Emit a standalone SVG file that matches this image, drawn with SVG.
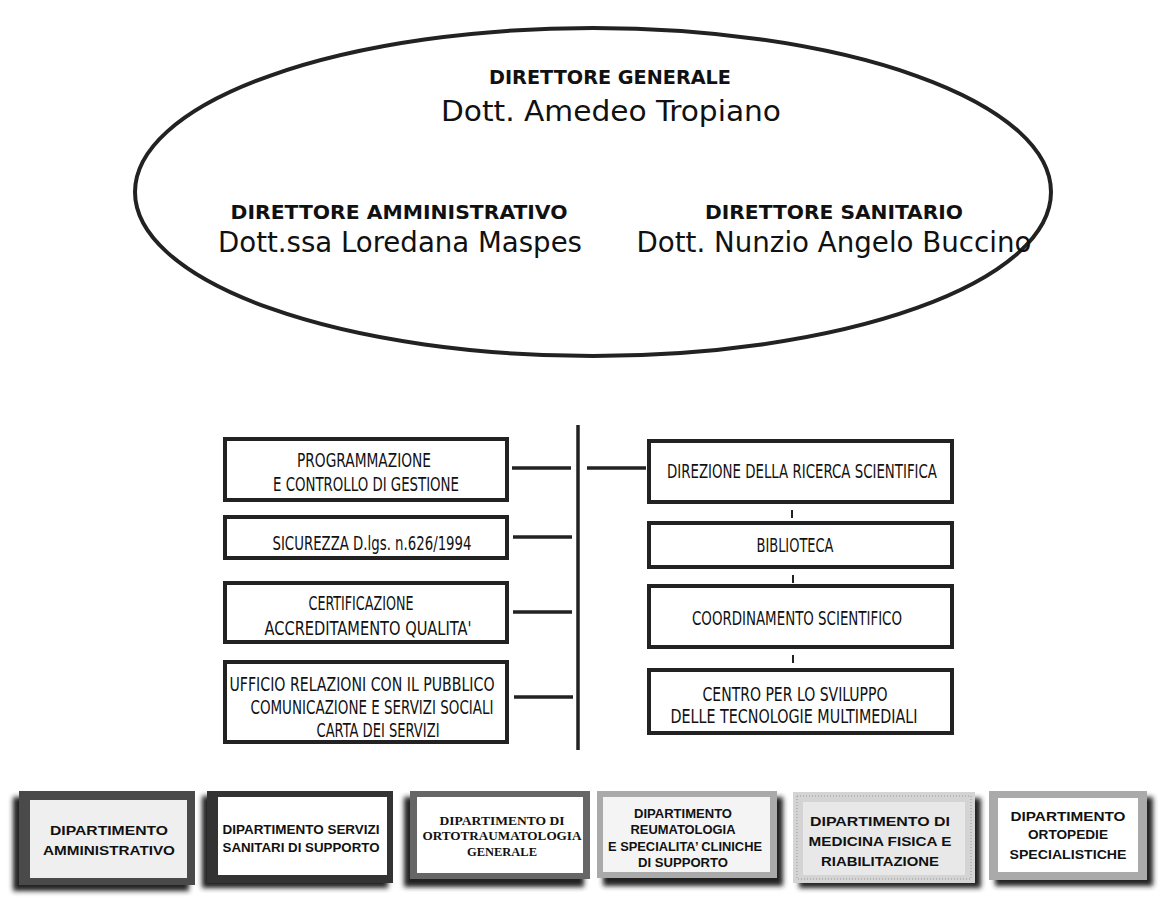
<svg xmlns="http://www.w3.org/2000/svg" width="1170" height="908" viewBox="0 0 1170 908">
<defs>
<filter id="blur" x="-10%" y="-10%" width="120%" height="130%"><feGaussianBlur stdDeviation="2.5"/></filter>
<style>
.hd{font-family:"DejaVu Sans Condensed","DejaVu Sans",sans-serif;font-stretch:condensed;font-weight:bold;font-size:19px;fill:#111;text-anchor:middle}
.nm{font-family:"DejaVu Sans Condensed","DejaVu Sans",sans-serif;font-stretch:condensed;font-size:28px;fill:#111;text-anchor:middle}
.bx{fill:#fff;stroke:#222;stroke-width:4}
.bt{font-family:"DejaVu Sans Condensed","DejaVu Sans",sans-serif;font-stretch:condensed;font-size:20px;fill:#111;text-anchor:middle}
.ln{stroke:#222;stroke-width:3.5;fill:none}
.tk{stroke:#222;stroke-width:2;fill:none}
.dt{font-family:"Liberation Sans",sans-serif;font-weight:bold;font-size:13px;fill:#111;text-anchor:middle}
.ds{font-family:"Liberation Serif",serif;font-weight:bold;font-size:13px;fill:#111;text-anchor:middle}
.sh{fill:#222;filter:url(#blur)}
</style>
</defs>
<rect width="1170" height="908" fill="#fff"/>

<g id="direzione">
<ellipse cx="593" cy="192" rx="458" ry="164" fill="#fff" stroke="#222" stroke-width="4"/>
<text class="hd" x="610" y="84" textLength="242" lengthAdjust="spacingAndGlyphs">DIRETTORE GENERALE</text>
<text class="nm" x="611" y="121" textLength="340" lengthAdjust="spacingAndGlyphs">Dott. Amedeo Tropiano</text>
<text class="hd" x="399" y="219" textLength="337" lengthAdjust="spacingAndGlyphs">DIRETTORE AMMINISTRATIVO</text>
<text class="nm" x="400" y="252" textLength="364" lengthAdjust="spacingAndGlyphs">Dott.ssa Loredana Maspes</text>
<text class="hd" x="834" y="219" textLength="258" lengthAdjust="spacingAndGlyphs">DIRETTORE SANITARIO</text>
<text class="nm" x="834" y="252" textLength="395" lengthAdjust="spacingAndGlyphs">Dott. Nunzio Angelo Buccino</text>
</g>

<g id="connectors">
<line class="ln" x1="578" y1="425" x2="578" y2="750"/>
<line class="ln" x1="512" y1="468" x2="571" y2="468"/>
<line class="ln" x1="513" y1="537" x2="572" y2="537"/>
<line class="ln" x1="513" y1="612" x2="572" y2="612"/>
<line class="ln" x1="514" y1="697" x2="573" y2="697"/>
<line class="ln" x1="587" y1="468" x2="646" y2="468"/>
<line class="tk" x1="792" y1="510" x2="792" y2="518"/>
<line class="tk" x1="793" y1="575" x2="793" y2="583"/>
<line class="tk" x1="793" y1="655" x2="793" y2="663"/>
</g>

<g id="programmazione">
<rect class="bx" x="225" y="439" width="282" height="61"/>
<text class="bt" x="364" y="467" textLength="134" lengthAdjust="spacingAndGlyphs">PROGRAMMAZIONE</text>
<text class="bt" x="366" y="491" textLength="186" lengthAdjust="spacingAndGlyphs">E CONTROLLO DI GESTIONE</text>
</g>
<g id="sicurezza">
<rect class="bx" x="225" y="517" width="282" height="41"/>
<text class="bt" x="372" y="550" textLength="199" lengthAdjust="spacingAndGlyphs">SICUREZZA D.lgs. n.626/1994</text>
</g>
<g id="certificazione">
<rect class="bx" x="225" y="583" width="282" height="59"/>
<text class="bt" x="361" y="610" textLength="105" lengthAdjust="spacingAndGlyphs">CERTIFICAZIONE</text>
<text class="bt" x="368" y="635" textLength="207" lengthAdjust="spacingAndGlyphs">ACCREDITAMENTO QUALITA'</text>
</g>
<g id="urp">
<rect class="bx" x="225" y="662" width="282" height="80"/>
<text class="bt" x="362" y="691" textLength="265" lengthAdjust="spacingAndGlyphs">UFFICIO RELAZIONI CON IL PUBBLICO</text>
<text class="bt" x="372" y="714" textLength="243" lengthAdjust="spacingAndGlyphs">COMUNICAZIONE E SERVIZI SOCIALI</text>
<text class="bt" x="378" y="737" textLength="123" lengthAdjust="spacingAndGlyphs">CARTA DEI SERVIZI</text>
</g>

<g id="ricerca">
<rect class="bx" x="649" y="441" width="303" height="61"/>
<text class="bt" x="802" y="478" textLength="270" lengthAdjust="spacingAndGlyphs">DIREZIONE DELLA RICERCA SCIENTIFICA</text>
</g>
<g id="biblioteca">
<rect class="bx" x="649" y="523" width="303" height="44"/>
<text class="bt" x="795" y="552" textLength="77" lengthAdjust="spacingAndGlyphs">BIBLIOTECA</text>
</g>
<g id="coordinamento">
<rect class="bx" x="649" y="586" width="303" height="61"/>
<text class="bt" x="797" y="625" textLength="210" lengthAdjust="spacingAndGlyphs">COORDINAMENTO SCIENTIFICO</text>
</g>
<g id="centro">
<rect class="bx" x="649" y="670" width="303" height="63"/>
<text class="bt" x="795" y="701" textLength="185" lengthAdjust="spacingAndGlyphs">CENTRO PER LO SVILUPPO</text>
<text class="bt" x="794" y="723" textLength="247" lengthAdjust="spacingAndGlyphs">DELLE TECNOLOGIE MULTIMEDIALI</text>
</g>

<g id="dip-amministrativo">
<rect class="sh" x="13" y="797" width="176" height="94"/>
<rect x="19" y="791" width="176" height="94" fill="#4a4a4a"/>
<rect x="30" y="800" width="157" height="78" fill="#efefef"/>
<text class="dt" x="109" y="835" textLength="118" lengthAdjust="spacingAndGlyphs">DIPARTIMENTO</text>
<text class="dt" x="109" y="855" textLength="132" lengthAdjust="spacingAndGlyphs">AMMINISTRATIVO</text>
</g>
<g id="dip-servizi">
<rect class="sh" x="202" y="796" width="186" height="92"/>
<rect x="207" y="791" width="186" height="92" fill="#333"/>
<rect x="218" y="797" width="169" height="78" fill="#fff"/>
<text class="dt" x="301" y="834" textLength="157" lengthAdjust="spacingAndGlyphs">DIPARTIMENTO SERVIZI</text>
<text class="dt" x="301" y="852" textLength="157" lengthAdjust="spacingAndGlyphs">SANITARI DI SUPPORTO</text>
</g>
<g id="dip-ortotraumatologia">
<rect class="sh" x="404" y="797" width="180" height="90"/>
<rect x="410" y="791" width="180" height="88" fill="#666"/>
<rect x="417" y="797" width="166" height="76" fill="#fff"/>
<text class="ds" x="502" y="825" textLength="125" lengthAdjust="spacingAndGlyphs">DIPARTIMENTO DI</text>
<text class="ds" x="502" y="840" textLength="159" lengthAdjust="spacingAndGlyphs">ORTOTRAUMATOLOGIA</text>
<text class="ds" x="502" y="856" textLength="70" lengthAdjust="spacingAndGlyphs">GENERALE</text>
</g>
<g id="dip-reumatologia">
<rect class="sh" x="603" y="797" width="180" height="89"/>
<rect x="597" y="791" width="180" height="87" fill="#aaa"/>
<rect x="603" y="797" width="167" height="75" fill="#f4f4f4"/>
<text class="dt" x="683" y="818" textLength="98" lengthAdjust="spacingAndGlyphs">DIPARTIMENTO</text>
<text class="dt" x="683" y="834" textLength="105" lengthAdjust="spacingAndGlyphs">REUMATOLOGIA</text>
<text class="dt" x="685" y="851" textLength="154" lengthAdjust="spacingAndGlyphs">E SPECIALITA’ CLINICHE</text>
<text class="dt" x="683" y="867" textLength="90" lengthAdjust="spacingAndGlyphs">DI SUPPORTO</text>
</g>
<g id="dip-medicina">
<rect class="sh" x="799" y="798" width="182" height="90"/>
<rect x="793" y="792" width="182" height="91" fill="#d4d4d4"/>
<rect x="797" y="796" width="174" height="83" fill="none" stroke="#999" stroke-width="1" stroke-dasharray="1 2"/>
<rect x="803" y="802" width="162" height="73" fill="#e8e8e8"/>
<text class="dt" x="880" y="826" font-size="14" textLength="140" lengthAdjust="spacingAndGlyphs">DIPARTIMENTO DI</text>
<text class="dt" x="880" y="846" font-size="14" textLength="143" lengthAdjust="spacingAndGlyphs">MEDICINA FISICA E</text>
<text class="dt" x="880" y="866" font-size="14" textLength="118" lengthAdjust="spacingAndGlyphs">RIABILITAZIONE</text>
</g>
<g id="dip-ortopedie">
<rect class="sh" x="995" y="797" width="158" height="89"/>
<rect x="989" y="791" width="158" height="89" fill="#aaa"/>
<rect x="998" y="798" width="140" height="74" fill="#fff"/>
<text class="dt" x="1068" y="821" textLength="115" lengthAdjust="spacingAndGlyphs">DIPARTIMENTO</text>
<text class="dt" x="1068" y="839" textLength="80" lengthAdjust="spacingAndGlyphs">ORTOPEDIE</text>
<text class="dt" x="1068" y="859" textLength="117" lengthAdjust="spacingAndGlyphs">SPECIALISTICHE</text>
</g>
</svg>
